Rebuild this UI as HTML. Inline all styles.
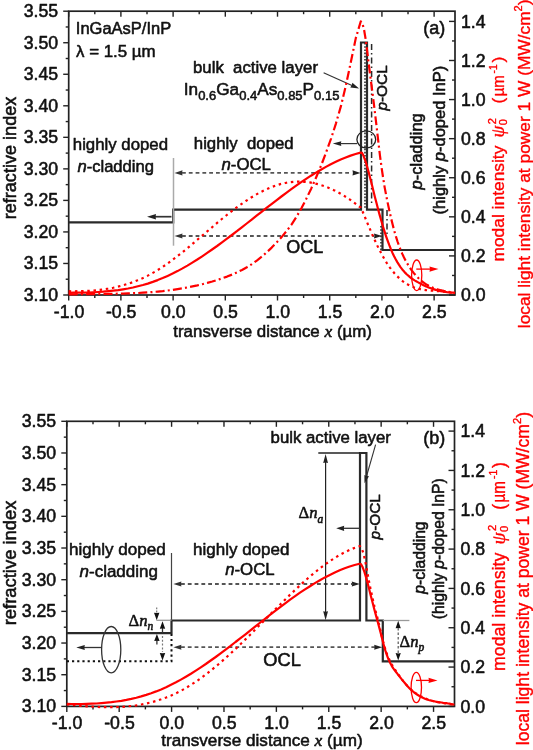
<!DOCTYPE html>
<html><head><meta charset="utf-8"><style>
html,body{margin:0;padding:0;background:#fff;}
body{width:533px;height:750px;overflow:hidden;font-family:"Liberation Sans", sans-serif;}
svg{display:block;filter:blur(0.35px);}
text{stroke-width:0.55px;stroke-linejoin:round;}
.rl text{stroke-width:0.35px;}
</style></head><body>
<svg width="533" height="750" viewBox="0 0 533 750" font-family='"Liberation Sans", sans-serif'>
<rect width="533" height="750" fill="#fff"/>
<rect x="68.7" y="11.2" width="386.3" height="283.8" fill="none" stroke="#222" stroke-width="1.7"/>
<line x1="63.2" y1="295" x2="68.7" y2="295" stroke="#222" stroke-width="1.4" />
<text x="58.1" y="300.9" font-size="17.7" text-anchor="end" fill="#111" stroke="#111"  style="">3.10</text>
<line x1="65.7" y1="279.23" x2="68.7" y2="279.23" stroke="#222" stroke-width="1.4" />
<line x1="63.2" y1="263.47" x2="68.7" y2="263.47" stroke="#222" stroke-width="1.4" />
<text x="58.1" y="269.37" font-size="17.7" text-anchor="end" fill="#111" stroke="#111"  style="">3.15</text>
<line x1="65.7" y1="247.7" x2="68.7" y2="247.7" stroke="#222" stroke-width="1.4" />
<line x1="63.2" y1="231.93" x2="68.7" y2="231.93" stroke="#222" stroke-width="1.4" />
<text x="58.1" y="237.83" font-size="17.7" text-anchor="end" fill="#111" stroke="#111"  style="">3.20</text>
<line x1="65.7" y1="216.17" x2="68.7" y2="216.17" stroke="#222" stroke-width="1.4" />
<line x1="63.2" y1="200.4" x2="68.7" y2="200.4" stroke="#222" stroke-width="1.4" />
<text x="58.1" y="206.3" font-size="17.7" text-anchor="end" fill="#111" stroke="#111"  style="">3.25</text>
<line x1="65.7" y1="184.63" x2="68.7" y2="184.63" stroke="#222" stroke-width="1.4" />
<line x1="63.2" y1="168.87" x2="68.7" y2="168.87" stroke="#222" stroke-width="1.4" />
<text x="58.1" y="174.77" font-size="17.7" text-anchor="end" fill="#111" stroke="#111"  style="">3.30</text>
<line x1="65.7" y1="153.1" x2="68.7" y2="153.1" stroke="#222" stroke-width="1.4" />
<line x1="63.2" y1="137.33" x2="68.7" y2="137.33" stroke="#222" stroke-width="1.4" />
<text x="58.1" y="143.23" font-size="17.7" text-anchor="end" fill="#111" stroke="#111"  style="">3.35</text>
<line x1="65.7" y1="121.57" x2="68.7" y2="121.57" stroke="#222" stroke-width="1.4" />
<line x1="63.2" y1="105.8" x2="68.7" y2="105.8" stroke="#222" stroke-width="1.4" />
<text x="58.1" y="111.7" font-size="17.7" text-anchor="end" fill="#111" stroke="#111"  style="">3.40</text>
<line x1="65.7" y1="90.03" x2="68.7" y2="90.03" stroke="#222" stroke-width="1.4" />
<line x1="63.2" y1="74.27" x2="68.7" y2="74.27" stroke="#222" stroke-width="1.4" />
<text x="58.1" y="80.17" font-size="17.7" text-anchor="end" fill="#111" stroke="#111"  style="">3.45</text>
<line x1="65.7" y1="58.5" x2="68.7" y2="58.5" stroke="#222" stroke-width="1.4" />
<line x1="63.2" y1="42.73" x2="68.7" y2="42.73" stroke="#222" stroke-width="1.4" />
<text x="58.1" y="48.63" font-size="17.7" text-anchor="end" fill="#111" stroke="#111"  style="">3.50</text>
<line x1="65.7" y1="26.97" x2="68.7" y2="26.97" stroke="#222" stroke-width="1.4" />
<line x1="63.2" y1="11.2" x2="68.7" y2="11.2" stroke="#222" stroke-width="1.4" />
<text x="58.1" y="17.1" font-size="17.7" text-anchor="end" fill="#111" stroke="#111"  style="">3.55</text>
<line x1="68.7" y1="295" x2="68.7" y2="300.5" stroke="#222" stroke-width="1.4" />
<line x1="68.7" y1="11.2" x2="68.7" y2="16.7" stroke="#222" stroke-width="1.4" />
<text x="69" y="317.7" font-size="17.7" text-anchor="middle" fill="#111" stroke="#111"  style="">-1.0</text>
<line x1="94.8" y1="295" x2="94.8" y2="298" stroke="#222" stroke-width="1.4" />
<line x1="94.8" y1="11.2" x2="94.8" y2="14.2" stroke="#222" stroke-width="1.4" />
<line x1="120.9" y1="295" x2="120.9" y2="300.5" stroke="#222" stroke-width="1.4" />
<line x1="120.9" y1="11.2" x2="120.9" y2="16.7" stroke="#222" stroke-width="1.4" />
<text x="121.2" y="317.7" font-size="17.7" text-anchor="middle" fill="#111" stroke="#111"  style="">-0.5</text>
<line x1="147" y1="295" x2="147" y2="298" stroke="#222" stroke-width="1.4" />
<line x1="147" y1="11.2" x2="147" y2="14.2" stroke="#222" stroke-width="1.4" />
<line x1="173.11" y1="295" x2="173.11" y2="300.5" stroke="#222" stroke-width="1.4" />
<line x1="173.11" y1="11.2" x2="173.11" y2="16.7" stroke="#222" stroke-width="1.4" />
<text x="173.41" y="317.7" font-size="17.7" text-anchor="middle" fill="#111" stroke="#111"  style="">0.0</text>
<line x1="199.21" y1="295" x2="199.21" y2="298" stroke="#222" stroke-width="1.4" />
<line x1="199.21" y1="11.2" x2="199.21" y2="14.2" stroke="#222" stroke-width="1.4" />
<line x1="225.31" y1="295" x2="225.31" y2="300.5" stroke="#222" stroke-width="1.4" />
<line x1="225.31" y1="11.2" x2="225.31" y2="16.7" stroke="#222" stroke-width="1.4" />
<text x="225.61" y="317.7" font-size="17.7" text-anchor="middle" fill="#111" stroke="#111"  style="">0.5</text>
<line x1="251.41" y1="295" x2="251.41" y2="298" stroke="#222" stroke-width="1.4" />
<line x1="251.41" y1="11.2" x2="251.41" y2="14.2" stroke="#222" stroke-width="1.4" />
<line x1="277.51" y1="295" x2="277.51" y2="300.5" stroke="#222" stroke-width="1.4" />
<line x1="277.51" y1="11.2" x2="277.51" y2="16.7" stroke="#222" stroke-width="1.4" />
<text x="277.81" y="317.7" font-size="17.7" text-anchor="middle" fill="#111" stroke="#111"  style="">1.0</text>
<line x1="303.61" y1="295" x2="303.61" y2="298" stroke="#222" stroke-width="1.4" />
<line x1="303.61" y1="11.2" x2="303.61" y2="14.2" stroke="#222" stroke-width="1.4" />
<line x1="329.71" y1="295" x2="329.71" y2="300.5" stroke="#222" stroke-width="1.4" />
<line x1="329.71" y1="11.2" x2="329.71" y2="16.7" stroke="#222" stroke-width="1.4" />
<text x="330.01" y="317.7" font-size="17.7" text-anchor="middle" fill="#111" stroke="#111"  style="">1.5</text>
<line x1="355.81" y1="295" x2="355.81" y2="298" stroke="#222" stroke-width="1.4" />
<line x1="355.81" y1="11.2" x2="355.81" y2="14.2" stroke="#222" stroke-width="1.4" />
<line x1="381.92" y1="295" x2="381.92" y2="300.5" stroke="#222" stroke-width="1.4" />
<line x1="381.92" y1="11.2" x2="381.92" y2="16.7" stroke="#222" stroke-width="1.4" />
<text x="382.22" y="317.7" font-size="17.7" text-anchor="middle" fill="#111" stroke="#111"  style="">2.0</text>
<line x1="408.02" y1="295" x2="408.02" y2="298" stroke="#222" stroke-width="1.4" />
<line x1="408.02" y1="11.2" x2="408.02" y2="14.2" stroke="#222" stroke-width="1.4" />
<line x1="434.12" y1="295" x2="434.12" y2="300.5" stroke="#222" stroke-width="1.4" />
<line x1="434.12" y1="11.2" x2="434.12" y2="16.7" stroke="#222" stroke-width="1.4" />
<text x="434.42" y="317.7" font-size="17.7" text-anchor="middle" fill="#111" stroke="#111"  style="">2.5</text>
<line x1="449" y1="295" x2="455" y2="295" stroke="#222" stroke-width="1.4" />
<text x="461" y="301.3" font-size="17.7" text-anchor="start" fill="#111" stroke="#111"  style="">0.0</text>
<line x1="452" y1="275.46" x2="455" y2="275.46" stroke="#222" stroke-width="1.4" />
<line x1="449" y1="255.91" x2="455" y2="255.91" stroke="#222" stroke-width="1.4" />
<text x="461" y="262.21" font-size="17.7" text-anchor="start" fill="#111" stroke="#111"  style="">0.2</text>
<line x1="452" y1="236.37" x2="455" y2="236.37" stroke="#222" stroke-width="1.4" />
<line x1="449" y1="216.83" x2="455" y2="216.83" stroke="#222" stroke-width="1.4" />
<text x="461" y="223.13" font-size="17.7" text-anchor="start" fill="#111" stroke="#111"  style="">0.4</text>
<line x1="452" y1="197.29" x2="455" y2="197.29" stroke="#222" stroke-width="1.4" />
<line x1="449" y1="177.74" x2="455" y2="177.74" stroke="#222" stroke-width="1.4" />
<text x="461" y="184.04" font-size="17.7" text-anchor="start" fill="#111" stroke="#111"  style="">0.6</text>
<line x1="452" y1="158.2" x2="455" y2="158.2" stroke="#222" stroke-width="1.4" />
<line x1="449" y1="138.66" x2="455" y2="138.66" stroke="#222" stroke-width="1.4" />
<text x="461" y="144.96" font-size="17.7" text-anchor="start" fill="#111" stroke="#111"  style="">0.8</text>
<line x1="452" y1="119.11" x2="455" y2="119.11" stroke="#222" stroke-width="1.4" />
<line x1="449" y1="99.57" x2="455" y2="99.57" stroke="#222" stroke-width="1.4" />
<text x="461" y="105.87" font-size="17.7" text-anchor="start" fill="#111" stroke="#111"  style="">1.0</text>
<line x1="452" y1="80.03" x2="455" y2="80.03" stroke="#222" stroke-width="1.4" />
<line x1="449" y1="60.49" x2="455" y2="60.49" stroke="#222" stroke-width="1.4" />
<text x="461" y="66.79" font-size="17.7" text-anchor="start" fill="#111" stroke="#111"  style="">1.2</text>
<line x1="452" y1="40.94" x2="455" y2="40.94" stroke="#222" stroke-width="1.4" />
<line x1="449" y1="21.4" x2="455" y2="21.4" stroke="#222" stroke-width="1.4" />
<text x="461" y="27.7" font-size="17.7" text-anchor="start" fill="#111" stroke="#111"  style="">1.4</text>
<text x="16" y="158" font-size="18.1" text-anchor="middle" fill="#111" stroke="#111" transform="rotate(-90 16 158)" style="">refractive index</text>
<text x="173.3" y="336.5" font-size="16.9" text-anchor="start" fill="#111" stroke="#111"  style="">transverse distance <tspan font-family="Liberation Serif" font-style="italic" font-size="17.5">x</tspan> (µm)</text>
<g transform="translate(504,261.6) rotate(-90) scale(1)" class="rl" fill="#f00" stroke="#f00" font-size="17.4">
<text x="0" y="0">modal intensity</text>
<text x="124" y="0" font-family="Liberation Serif" font-style="italic" font-size="19">ψ</text>
<text x="136.3" y="2.5" font-size="11">0</text>
<text x="137.3" y="-8.5" font-size="11">2</text>
<text x="158.2" y="0">(</text>
<text x="165.3" y="0" textLength="21" lengthAdjust="spacingAndGlyphs">µm</text>
<text x="188.2" y="-7.5" font-size="10.2">-1</text>
<text x="199" y="0">)</text>
</g>
<g transform="translate(529.5,328.2) rotate(-90) scale(1.008)" class="rl" fill="#f00" stroke="#f00" font-size="17.4">
<text x="0" y="0" font-size="17.2">local light intensity at power 1 W (MW/cm<tspan font-size="11" dy="-7">2</tspan><tspan dy="7">)</tspan></text>
</g>
<text x="423.3" y="34.2" font-size="18" text-anchor="start" fill="#111" stroke="#111"  style="">(a)</text>
<rect x="66.8" y="421.3" width="387.7" height="285.1" fill="none" stroke="#222" stroke-width="1.7"/>
<line x1="61.3" y1="706.4" x2="66.8" y2="706.4" stroke="#222" stroke-width="1.4" />
<text x="56.2" y="712.3" font-size="17.7" text-anchor="end" fill="#111" stroke="#111"  style="">3.10</text>
<line x1="63.8" y1="690.56" x2="66.8" y2="690.56" stroke="#222" stroke-width="1.4" />
<line x1="61.3" y1="674.72" x2="66.8" y2="674.72" stroke="#222" stroke-width="1.4" />
<text x="56.2" y="680.62" font-size="17.7" text-anchor="end" fill="#111" stroke="#111"  style="">3.15</text>
<line x1="63.8" y1="658.88" x2="66.8" y2="658.88" stroke="#222" stroke-width="1.4" />
<line x1="61.3" y1="643.04" x2="66.8" y2="643.04" stroke="#222" stroke-width="1.4" />
<text x="56.2" y="648.94" font-size="17.7" text-anchor="end" fill="#111" stroke="#111"  style="">3.20</text>
<line x1="63.8" y1="627.21" x2="66.8" y2="627.21" stroke="#222" stroke-width="1.4" />
<line x1="61.3" y1="611.37" x2="66.8" y2="611.37" stroke="#222" stroke-width="1.4" />
<text x="56.2" y="617.27" font-size="17.7" text-anchor="end" fill="#111" stroke="#111"  style="">3.25</text>
<line x1="63.8" y1="595.53" x2="66.8" y2="595.53" stroke="#222" stroke-width="1.4" />
<line x1="61.3" y1="579.69" x2="66.8" y2="579.69" stroke="#222" stroke-width="1.4" />
<text x="56.2" y="585.59" font-size="17.7" text-anchor="end" fill="#111" stroke="#111"  style="">3.30</text>
<line x1="63.8" y1="563.85" x2="66.8" y2="563.85" stroke="#222" stroke-width="1.4" />
<line x1="61.3" y1="548.01" x2="66.8" y2="548.01" stroke="#222" stroke-width="1.4" />
<text x="56.2" y="553.91" font-size="17.7" text-anchor="end" fill="#111" stroke="#111"  style="">3.35</text>
<line x1="63.8" y1="532.17" x2="66.8" y2="532.17" stroke="#222" stroke-width="1.4" />
<line x1="61.3" y1="516.33" x2="66.8" y2="516.33" stroke="#222" stroke-width="1.4" />
<text x="56.2" y="522.23" font-size="17.7" text-anchor="end" fill="#111" stroke="#111"  style="">3.40</text>
<line x1="63.8" y1="500.49" x2="66.8" y2="500.49" stroke="#222" stroke-width="1.4" />
<line x1="61.3" y1="484.66" x2="66.8" y2="484.66" stroke="#222" stroke-width="1.4" />
<text x="56.2" y="490.56" font-size="17.7" text-anchor="end" fill="#111" stroke="#111"  style="">3.45</text>
<line x1="63.8" y1="468.82" x2="66.8" y2="468.82" stroke="#222" stroke-width="1.4" />
<line x1="61.3" y1="452.98" x2="66.8" y2="452.98" stroke="#222" stroke-width="1.4" />
<text x="56.2" y="458.88" font-size="17.7" text-anchor="end" fill="#111" stroke="#111"  style="">3.50</text>
<line x1="63.8" y1="437.14" x2="66.8" y2="437.14" stroke="#222" stroke-width="1.4" />
<line x1="61.3" y1="421.3" x2="66.8" y2="421.3" stroke="#222" stroke-width="1.4" />
<text x="56.2" y="427.2" font-size="17.7" text-anchor="end" fill="#111" stroke="#111"  style="">3.55</text>
<line x1="66.8" y1="706.4" x2="66.8" y2="711.9" stroke="#222" stroke-width="1.4" />
<line x1="66.8" y1="421.3" x2="66.8" y2="426.8" stroke="#222" stroke-width="1.4" />
<text x="67.1" y="728.9" font-size="17.7" text-anchor="middle" fill="#111" stroke="#111"  style="">-1.0</text>
<line x1="93" y1="706.4" x2="93" y2="709.4" stroke="#222" stroke-width="1.4" />
<line x1="93" y1="421.3" x2="93" y2="424.3" stroke="#222" stroke-width="1.4" />
<line x1="119.19" y1="706.4" x2="119.19" y2="711.9" stroke="#222" stroke-width="1.4" />
<line x1="119.19" y1="421.3" x2="119.19" y2="426.8" stroke="#222" stroke-width="1.4" />
<text x="119.49" y="728.9" font-size="17.7" text-anchor="middle" fill="#111" stroke="#111"  style="">-0.5</text>
<line x1="145.39" y1="706.4" x2="145.39" y2="709.4" stroke="#222" stroke-width="1.4" />
<line x1="145.39" y1="421.3" x2="145.39" y2="424.3" stroke="#222" stroke-width="1.4" />
<line x1="171.58" y1="706.4" x2="171.58" y2="711.9" stroke="#222" stroke-width="1.4" />
<line x1="171.58" y1="421.3" x2="171.58" y2="426.8" stroke="#222" stroke-width="1.4" />
<text x="171.88" y="728.9" font-size="17.7" text-anchor="middle" fill="#111" stroke="#111"  style="">0.0</text>
<line x1="197.78" y1="706.4" x2="197.78" y2="709.4" stroke="#222" stroke-width="1.4" />
<line x1="197.78" y1="421.3" x2="197.78" y2="424.3" stroke="#222" stroke-width="1.4" />
<line x1="223.98" y1="706.4" x2="223.98" y2="711.9" stroke="#222" stroke-width="1.4" />
<line x1="223.98" y1="421.3" x2="223.98" y2="426.8" stroke="#222" stroke-width="1.4" />
<text x="224.28" y="728.9" font-size="17.7" text-anchor="middle" fill="#111" stroke="#111"  style="">0.5</text>
<line x1="250.17" y1="706.4" x2="250.17" y2="709.4" stroke="#222" stroke-width="1.4" />
<line x1="250.17" y1="421.3" x2="250.17" y2="424.3" stroke="#222" stroke-width="1.4" />
<line x1="276.37" y1="706.4" x2="276.37" y2="711.9" stroke="#222" stroke-width="1.4" />
<line x1="276.37" y1="421.3" x2="276.37" y2="426.8" stroke="#222" stroke-width="1.4" />
<text x="276.67" y="728.9" font-size="17.7" text-anchor="middle" fill="#111" stroke="#111"  style="">1.0</text>
<line x1="302.56" y1="706.4" x2="302.56" y2="709.4" stroke="#222" stroke-width="1.4" />
<line x1="302.56" y1="421.3" x2="302.56" y2="424.3" stroke="#222" stroke-width="1.4" />
<line x1="328.76" y1="706.4" x2="328.76" y2="711.9" stroke="#222" stroke-width="1.4" />
<line x1="328.76" y1="421.3" x2="328.76" y2="426.8" stroke="#222" stroke-width="1.4" />
<text x="329.06" y="728.9" font-size="17.7" text-anchor="middle" fill="#111" stroke="#111"  style="">1.5</text>
<line x1="354.96" y1="706.4" x2="354.96" y2="709.4" stroke="#222" stroke-width="1.4" />
<line x1="354.96" y1="421.3" x2="354.96" y2="424.3" stroke="#222" stroke-width="1.4" />
<line x1="381.15" y1="706.4" x2="381.15" y2="711.9" stroke="#222" stroke-width="1.4" />
<line x1="381.15" y1="421.3" x2="381.15" y2="426.8" stroke="#222" stroke-width="1.4" />
<text x="381.45" y="728.9" font-size="17.7" text-anchor="middle" fill="#111" stroke="#111"  style="">2.0</text>
<line x1="407.35" y1="706.4" x2="407.35" y2="709.4" stroke="#222" stroke-width="1.4" />
<line x1="407.35" y1="421.3" x2="407.35" y2="424.3" stroke="#222" stroke-width="1.4" />
<line x1="433.54" y1="706.4" x2="433.54" y2="711.9" stroke="#222" stroke-width="1.4" />
<line x1="433.54" y1="421.3" x2="433.54" y2="426.8" stroke="#222" stroke-width="1.4" />
<text x="433.84" y="728.9" font-size="17.7" text-anchor="middle" fill="#111" stroke="#111"  style="">2.5</text>
<line x1="448.5" y1="706.4" x2="454.5" y2="706.4" stroke="#222" stroke-width="1.4" />
<text x="460.5" y="712.7" font-size="17.7" text-anchor="start" fill="#111" stroke="#111"  style="">0.0</text>
<line x1="451.5" y1="686.74" x2="454.5" y2="686.74" stroke="#222" stroke-width="1.4" />
<line x1="448.5" y1="667.07" x2="454.5" y2="667.07" stroke="#222" stroke-width="1.4" />
<text x="460.5" y="673.37" font-size="17.7" text-anchor="start" fill="#111" stroke="#111"  style="">0.2</text>
<line x1="451.5" y1="647.41" x2="454.5" y2="647.41" stroke="#222" stroke-width="1.4" />
<line x1="448.5" y1="627.74" x2="454.5" y2="627.74" stroke="#222" stroke-width="1.4" />
<text x="460.5" y="634.04" font-size="17.7" text-anchor="start" fill="#111" stroke="#111"  style="">0.4</text>
<line x1="451.5" y1="608.08" x2="454.5" y2="608.08" stroke="#222" stroke-width="1.4" />
<line x1="448.5" y1="588.41" x2="454.5" y2="588.41" stroke="#222" stroke-width="1.4" />
<text x="460.5" y="594.71" font-size="17.7" text-anchor="start" fill="#111" stroke="#111"  style="">0.6</text>
<line x1="451.5" y1="568.75" x2="454.5" y2="568.75" stroke="#222" stroke-width="1.4" />
<line x1="448.5" y1="549.09" x2="454.5" y2="549.09" stroke="#222" stroke-width="1.4" />
<text x="460.5" y="555.39" font-size="17.7" text-anchor="start" fill="#111" stroke="#111"  style="">0.8</text>
<line x1="451.5" y1="529.42" x2="454.5" y2="529.42" stroke="#222" stroke-width="1.4" />
<line x1="448.5" y1="509.76" x2="454.5" y2="509.76" stroke="#222" stroke-width="1.4" />
<text x="460.5" y="516.06" font-size="17.7" text-anchor="start" fill="#111" stroke="#111"  style="">1.0</text>
<line x1="451.5" y1="490.09" x2="454.5" y2="490.09" stroke="#222" stroke-width="1.4" />
<line x1="448.5" y1="470.43" x2="454.5" y2="470.43" stroke="#222" stroke-width="1.4" />
<text x="460.5" y="476.73" font-size="17.7" text-anchor="start" fill="#111" stroke="#111"  style="">1.2</text>
<line x1="451.5" y1="450.76" x2="454.5" y2="450.76" stroke="#222" stroke-width="1.4" />
<line x1="448.5" y1="431.1" x2="454.5" y2="431.1" stroke="#222" stroke-width="1.4" />
<text x="460.5" y="437.4" font-size="17.7" text-anchor="start" fill="#111" stroke="#111"  style="">1.4</text>
<text x="15.6" y="562.9" font-size="18.4" text-anchor="middle" fill="#111" stroke="#111" transform="rotate(-90 15.6 562.9)" style="">refractive index</text>
<text x="161.2" y="746.4" font-size="17.15" text-anchor="start" fill="#111" stroke="#111"  style="">transverse distance <tspan font-family="Liberation Serif" font-style="italic" font-size="17.5">x</tspan> (µm)</text>
<g transform="translate(505,671) rotate(-90) scale(1.02)" class="rl" fill="#f00" stroke="#f00" font-size="17.4">
<text x="0" y="0">modal intensity</text>
<text x="124" y="0" font-family="Liberation Serif" font-style="italic" font-size="19">ψ</text>
<text x="136.3" y="2.5" font-size="11">0</text>
<text x="137.3" y="-8.5" font-size="11">2</text>
<text x="158.2" y="0">(</text>
<text x="165.3" y="0" textLength="21" lengthAdjust="spacingAndGlyphs">µm</text>
<text x="188.2" y="-7.5" font-size="10.2">-1</text>
<text x="199" y="0">)</text>
</g>
<g transform="translate(528.5,745.2) rotate(-90) scale(1.022)" class="rl" fill="#f00" stroke="#f00" font-size="17.4">
<text x="0" y="0" font-size="17.2">local light intensity at power 1 W (MW/cm<tspan font-size="11" dy="-7">2</tspan><tspan dy="7">)</tspan></text>
</g>
<text x="423.3" y="443.8" font-size="18" text-anchor="start" fill="#111" stroke="#111"  style="">(b)</text>
<text x="75.8" y="34.3" font-size="16.5" fill="#111" stroke="#111" >InGaAsP/InP</text>
<text x="76" y="57.4" font-size="16.9" fill="#111" stroke="#111" >λ = 1.5 µm</text>
<text x="193" y="73" font-size="16.8" fill="#111" stroke="#111" >bulk&#160; active layer</text>
<text x="183.8" y="95" font-size="17.2" fill="#111" stroke="#111" >In<tspan font-size="13" dy="4.8">0.6</tspan><tspan dy="-4.8">Ga</tspan><tspan font-size="13" dy="4.8">0.4</tspan><tspan dy="-4.8">As</tspan><tspan font-size="13" dy="4.8">0.85</tspan><tspan dy="-4.8">P</tspan><tspan font-size="13" dy="4.8">0.15</tspan></text>
<text x="72.8" y="150" font-size="16.8" fill="#111" stroke="#111" >highly doped</text>
<text x="77.4" y="171.8" font-size="16.6" fill="#111" stroke="#111" ><tspan font-style="italic">n</tspan>-cladding</text>
<text x="193.8" y="149.4" font-size="16.8" fill="#111" stroke="#111" >highly&#160; doped</text>
<text x="221.5" y="170" font-size="16.8" fill="#111" stroke="#111" ><tspan font-style="italic">n</tspan>-OCL</text>
<text x="286.2" y="253.4" font-size="18" fill="#111" stroke="#111" >OCL</text>
<text transform="translate(387.2,110.6) rotate(-90)" font-size="15.4" fill="#111" stroke="#111"><tspan font-style="italic">p</tspan>-OCL</text>
<text transform="translate(422.2,189.4) rotate(-90)" font-size="16.5" fill="#111" stroke="#111"><tspan font-style="italic">p</tspan>-cladding</text>
<text transform="translate(445.4,214.4) rotate(-90)" font-size="16.5" fill="#111" stroke="#111">(highly <tspan font-style="italic">p</tspan>-doped InP)</text>
<path d="M68.7,222.3 L173.2,222.3 L173.2,209.6 L361,209.6 L361,42.5 L367,42.5 L367,209.6 L382.5,209.6 L382.5,250 L455,250" stroke="#2a2a2a" stroke-width="2.2" fill="none" />
<path d="M365,43 L365,209.6" stroke="#2a2a2a" stroke-width="1.6" stroke-dasharray="1.6,1.6" fill="none"/>
<path d="M381,226 L381,250" stroke="#2a2a2a" stroke-width="1.6" stroke-dasharray="1.6,1.6" fill="none"/>
<path d="M371.6,44 L371.6,206" stroke="#2a2a2a" stroke-width="1.5" stroke-dasharray="6,3,1.5,3" fill="none"/>
<path d="M387,210 L387,236" stroke="#2a2a2a" stroke-width="1.5" stroke-dasharray="6,3,1.5,3" fill="none"/>
<line x1="173.5" y1="158" x2="173.5" y2="245.7" stroke="#aaa" stroke-width="1.5" />
<path d="M182,172.9 L352,172.9" stroke="#555" stroke-width="1.8" stroke-dasharray="3.8,3" fill="none"/>
<path d="M174.5,172.9 L182.5,170.3 L182.1,172.9 L182.5,175.5 Z" fill="#333"/>
<path d="M360.5,172.9 L352.5,175.5 L352.9,172.9 L352.5,170.3 Z" fill="#222"/>
<path d="M182,236 L374,236" stroke="#555" stroke-width="1.8" stroke-dasharray="3.8,3" fill="none"/>
<path d="M174.5,236 L182.5,233.4 L182.1,236 L182.5,238.6 Z" fill="#333"/>
<path d="M382,236 L374,238.6 L374.4,236 L374,233.4 Z" fill="#222"/>
<line x1="153" y1="216.7" x2="171.5" y2="216.7" stroke="#333" stroke-width="1.7" />
<path d="M147,216.7 L156,213.9 L155.55,216.7 L156,219.5 Z" fill="#222"/>
<ellipse cx="366.3" cy="139.4" rx="9.4" ry="8.5" fill="none" stroke="#222" stroke-width="1.3"/>
<line x1="341" y1="143.6" x2="357" y2="143.6" stroke="#333" stroke-width="1.2" />
<path d="M332.8,143.6 L341.3,141.2 L340.88,143.6 L341.3,146 Z" fill="#222"/>
<line x1="323.6" y1="72.7" x2="352" y2="85.5" stroke="#333" stroke-width="1.2" />
<path d="M359.1,88.5 L350.28,87.42 L351.72,85.22 L352.39,82.67 Z" fill="#222"/>
<path d="M68.7,292.8 L73.6,292.7 L78.6,292.7 L83.5,292.6 L88.5,292.5 L93.4,292.3 L98.4,292.0 L103.3,291.7 L108.3,291.2 L113.2,290.7 L118.2,290.1 L123.1,289.3 L128.0,288.5 L133.0,287.5 L137.9,286.3 L142.9,285.0 L147.8,283.6 L152.8,281.9 L157.7,280.1 L162.7,278.1 L167.6,275.9 L172.6,273.6 L177.5,271.1 L182.5,268.4 L187.4,265.6 L192.3,262.6 L197.3,259.5 L202.2,256.3 L207.2,252.9 L212.1,249.5 L217.1,246.0 L222.0,242.4 L227.0,238.7 L231.9,235.0 L236.9,231.2 L241.8,227.3 L246.7,223.5 L251.7,219.6 L256.6,215.7 L261.6,211.8 L266.5,207.9 L271.5,204.1 L276.4,200.3 L281.4,196.5 L286.3,192.8 L291.3,189.2 L296.2,185.7 L301.2,182.2 L306.1,178.9 L311.0,175.7 L316.0,172.6 L320.9,169.7 L325.9,166.9 L330.8,164.2 L335.8,161.8 L340.7,159.5 L345.7,157.5 L350.6,155.6 L355.6,154.0 L360.5,152.6 L362.1,152.9 L363.7,156.3 L365.3,160.7 L366.9,165.8 L368.5,171.6 L370.1,177.7 L371.7,184.1 L373.3,190.5 L374.9,196.9 L376.5,203.1 L378.1,209.2 L379.7,215.1 L381.3,220.7 L382.9,226.2 L384.5,231.4 L386.1,236.3 L387.7,240.9 L389.3,245.2 L390.9,249.2 L392.5,252.9 L394.1,256.2 L395.7,259.3 L397.3,262.1 L398.9,264.7 L400.5,267.1 L402.1,269.2 L403.7,271.1 L405.3,272.9 L406.9,274.5 L408.6,275.9 L410.2,277.3 L411.8,278.5 L413.4,279.6 L415.0,280.6 L416.6,281.5 L418.2,282.4 L419.8,283.3 L421.4,284.1 L423.0,284.9 L424.6,285.7 L426.2,286.4 L427.8,287.1 L429.4,287.7 L431.0,288.3 L432.6,288.9 L434.2,289.4 L435.8,289.9 L437.4,290.3 L439.0,290.7 L440.6,291.1 L442.2,291.4 L443.8,291.7 L445.4,292.0 L447.0,292.2 L448.6,292.3 L450.2,292.5 L451.8,292.6 L453.4,292.6 L455.0,292.6" stroke="#f00" stroke-width="2.2" fill="none" stroke-linejoin="round" />
<path d="M68.7,291.2 L73.6,291.3 L78.5,291.2 L83.5,291.1 L88.4,290.9 L93.3,290.5 L98.2,290.1 L103.1,289.4 L108.1,288.7 L113.0,287.8 L117.9,286.7 L122.8,285.4 L127.7,283.9 L132.7,282.2 L137.6,280.3 L142.5,278.2 L147.4,275.9 L152.3,273.2 L157.3,270.4 L162.2,267.2 L167.1,263.9 L172.0,260.3 L176.9,256.6 L181.9,252.7 L186.8,248.7 L191.7,244.6 L196.6,240.4 L201.5,236.2 L206.5,232.0 L211.4,227.8 L216.3,223.6 L221.2,219.5 L226.2,215.5 L231.1,211.7 L236.0,207.9 L240.9,204.4 L245.8,201.0 L250.8,197.8 L255.7,194.8 L260.6,192.1 L265.5,189.7 L270.4,187.5 L275.4,185.7 L280.3,184.1 L285.2,183.0 L290.1,182.2 L295.0,181.7 L300.0,181.6 L304.9,181.9 L309.8,182.4 L314.7,183.4 L319.6,184.6 L324.6,186.2 L329.5,188.2 L334.4,190.4 L339.3,193.0 L344.2,195.9 L349.2,199.1 L354.1,202.7 L359.0,206.5 L360.6,207.2 L362.3,210.8 L363.9,214.6 L365.5,218.5 L367.1,222.4 L368.8,226.3 L370.4,230.1 L372.0,233.9 L373.6,237.7 L375.3,241.3 L376.9,244.8 L378.5,248.1 L380.2,251.3 L381.8,254.4 L383.4,257.3 L385.0,260.1 L386.7,262.8 L388.3,265.2 L389.9,267.6 L391.5,269.8 L393.2,271.8 L394.8,273.7 L396.4,275.5 L398.1,277.1 L399.7,278.6 L401.3,280.0 L402.9,281.3 L404.6,282.5 L406.2,283.5 L407.8,284.5 L409.4,285.4 L411.1,286.1 L412.7,286.8 L414.3,287.5 L415.9,288.0 L417.6,288.5 L419.2,288.9 L420.8,289.3 L422.5,289.6 L424.1,289.9 L425.7,290.1 L427.3,290.3 L429.0,290.5 L430.6,290.6 L432.2,290.7 L433.8,290.8 L435.5,291.0 L437.1,291.1 L438.7,291.2 L440.4,291.3 L442.0,291.4 L443.6,291.6 L445.2,291.7 L446.9,291.9 L448.5,292.2 L450.1,292.5 L451.7,292.8 L453.4,293.2 L455.0,293.6" stroke="#f00" stroke-width="2.2" fill="none" stroke-linejoin="round" stroke-dasharray="2.5,3.7"/>
<path d="M68.7,294.4 L73.7,294.3 L78.6,294.2 L83.6,294.1 L88.5,294.1 L93.5,294.1 L98.4,294.0 L103.4,294.0 L108.3,293.9 L113.3,293.8 L118.2,293.7 L123.2,293.6 L128.1,293.4 L133.1,293.2 L138.0,293.0 L143.0,292.7 L147.9,292.4 L152.9,292.0 L157.8,291.6 L162.8,291.1 L167.7,290.5 L172.7,289.9 L177.6,289.1 L182.6,288.3 L187.5,287.4 L192.5,286.4 L197.4,285.4 L202.4,284.2 L207.3,282.9 L212.3,281.5 L217.2,280.0 L222.2,278.3 L227.1,276.6 L232.1,274.6 L237.0,272.4 L242.0,270.0 L246.9,267.2 L251.9,264.1 L256.8,260.6 L261.8,256.7 L266.7,252.3 L271.7,247.6 L276.6,242.5 L281.6,237.1 L286.5,231.2 L291.5,224.6 L296.4,216.9 L301.4,208.3 L306.3,198.8 L311.3,188.4 L316.2,177.3 L321.2,165.3 L326.1,152.4 L331.1,138.5 L336.0,123.3 L341.0,105.9 L345.9,85.4 L350.9,61.8 L355.8,38.1 L360.8,21.3 L362.4,23.4 L364.0,29.3 L365.6,38.9 L367.2,51.2 L368.8,64.4 L370.4,76.9 L372.0,89.2 L373.6,101.6 L375.2,114.8 L376.8,128.4 L378.4,142.3 L380.0,155.8 L381.6,167.8 L383.2,178.3 L384.7,187.6 L386.3,196.0 L387.9,203.9 L389.5,211.3 L391.1,218.3 L392.7,224.8 L394.3,230.9 L395.9,236.4 L397.5,241.5 L399.1,246.0 L400.7,250.2 L402.3,253.9 L403.9,257.3 L405.5,260.4 L407.1,263.3 L408.7,265.9 L410.3,268.3 L411.9,270.6 L413.5,272.7 L415.1,274.6 L416.7,276.4 L418.3,278.0 L419.9,279.5 L421.5,280.9 L423.1,282.2 L424.7,283.3 L426.3,284.4 L427.9,285.3 L429.5,286.2 L431.1,286.9 L432.6,287.6 L434.2,288.2 L435.8,288.8 L437.4,289.3 L439.0,289.7 L440.6,290.2 L442.2,290.5 L443.8,290.9 L445.4,291.2 L447.0,291.6 L448.6,291.9 L450.2,292.2 L451.8,292.6 L453.4,292.9 L455.0,293.3" stroke="#f00" stroke-width="2.2" fill="none" stroke-linejoin="round" stroke-dasharray="9,3.2,2,3.2"/>
<ellipse cx="416.7" cy="275.3" rx="5.1" ry="15.3" fill="none" stroke="#f00" stroke-width="1.3"/>
<line x1="416.3" y1="269.1" x2="430" y2="269.1" stroke="#f00" stroke-width="1.3" />
<path d="M438.5,269.1 L429.5,271.7 L429.95,269.1 L429.5,266.5 Z" fill="#f00"/>
<text x="270.6" y="442.8" font-size="16.8" fill="#111" stroke="#111" >bulk active layer</text>
<text x="68.9" y="554.8" font-size="17.1" fill="#111" stroke="#111" >highly doped</text>
<text x="79.5" y="577.3" font-size="17.0" fill="#111" stroke="#111" ><tspan font-style="italic">n</tspan>-cladding</text>
<text x="193" y="554.8" font-size="17.0" fill="#111" stroke="#111" >highly doped</text>
<text x="225.2" y="575" font-size="16.8" fill="#111" stroke="#111" ><tspan font-style="italic">n</tspan>-OCL</text>
<text x="263.3" y="666" font-size="18.3" fill="#111" stroke="#111" >OCL</text>
<text transform="translate(379.6,539.4) rotate(-90)" font-size="15.4" fill="#111" stroke="#111"><tspan font-style="italic">p</tspan>-OCL</text>
<text transform="translate(424.9,593.8) rotate(-90)" font-size="15.7" fill="#111" stroke="#111"><tspan font-style="italic">p</tspan>-cladding</text>
<text transform="translate(444.3,619.2) rotate(-90)" font-size="15.65" fill="#111" stroke="#111">(highly <tspan font-style="italic">p</tspan>-doped InP)</text>
<text x="128.6" y="625.7" font-size="16.5" font-family="Liberation Serif" fill="#111" stroke="#111" stroke-width="0.3">Δ<tspan font-style="italic">n</tspan><tspan font-style="italic" font-size="11.5" dy="4.5">n</tspan></text>
<text x="298.5" y="518.2" font-size="16.5" font-family="Liberation Serif" fill="#111" stroke="#111" stroke-width="0.3">Δ<tspan font-style="italic">n</tspan><tspan font-style="italic" font-size="11.5" dy="4.5">a</tspan></text>
<text x="399.5" y="646.6" font-size="16.5" font-family="Liberation Serif" fill="#111" stroke="#111" stroke-width="0.3">Δ<tspan font-style="italic">n</tspan><tspan font-style="italic" font-size="11.5" dy="4.5">p</tspan></text>
<path d="M66.8,633.2 L171.5,633.2 L171.5,620.5 L360,620.5 L360,453 L366.4,453 L366.4,620.5 L382.8,620.5 L382.8,661.3 L454.5,661.3" stroke="#2a2a2a" stroke-width="2.2" fill="none" />
<line x1="318.3" y1="453" x2="360" y2="453" stroke="#222" stroke-width="1.3" />
<line x1="382.8" y1="620.5" x2="409.4" y2="620.5" stroke="#999" stroke-width="1.3" />
<line x1="171.5" y1="553" x2="171.5" y2="620.5" stroke="#444" stroke-width="1.2" />
<path d="M66.8,661.2 L171.5,661.2 L171.5,634" stroke="#111" stroke-width="2" stroke-dasharray="2.2,3" fill="none"/>
<path d="M181,584 L352,584" stroke="#555" stroke-width="1.8" stroke-dasharray="3.8,3" fill="none"/>
<path d="M173.4,584 L181.4,581.5 L181,584 L181.4,586.5 Z" fill="#333"/>
<path d="M359.8,584 L351.8,586.5 L352.2,584 L351.8,581.5 Z" fill="#222"/>
<path d="M181,647.2 L375,647.2" stroke="#555" stroke-width="1.8" stroke-dasharray="3.8,3" fill="none"/>
<path d="M173.4,647.2 L181.4,644.7 L181,647.2 L181.4,649.7 Z" fill="#333"/>
<path d="M382.2,647.2 L374.2,649.7 L374.6,647.2 L374.2,644.7 Z" fill="#222"/>
<line x1="325.6" y1="461" x2="325.6" y2="613" stroke="#222" stroke-width="1.2" />
<path d="M325.6,453.9 L328,462.9 L325.6,462.45 L323.2,462.9 Z" fill="#222"/>
<path d="M325.6,620.3 L323.2,611.3 L325.6,611.75 L328,611.3 Z" fill="#222"/>
<line x1="343" y1="528.3" x2="359.5" y2="528.3" stroke="#333" stroke-width="1.3" />
<path d="M336.2,528.3 L344.2,525.7 L343.8,528.3 L344.2,530.9 Z" fill="#222"/>
<line x1="375.6" y1="444.7" x2="366.6" y2="476" stroke="#333" stroke-width="1.1" />
<path d="M364.5,483.3 L364.4,474.95 L366.6,476 L369.02,476.27 Z" fill="#222"/>
<path d="M156.7,607.5 L156.7,613" stroke="#777" stroke-width="1.2" stroke-dasharray="1.8,1.3"/>
<path d="M156.7,620.2 L154,612.7 L156.7,613.08 L159.4,612.7 Z" fill="#111"/>
<line x1="156.4" y1="620.3" x2="171.4" y2="620.3" stroke="#999" stroke-width="1.3" />
<line x1="162.5" y1="627" x2="162.5" y2="633" stroke="#333" stroke-width="1.3" />
<path d="M162.5,621.3 L165.2,628.8 L162.5,628.42 L159.8,628.8 Z" fill="#111"/>
<line x1="156.9" y1="639" x2="156.9" y2="644.5" stroke="#333" stroke-width="1.3" />
<path d="M156.9,634 L159.6,641 L156.9,640.65 L154.2,641 Z" fill="#111"/>
<path d="M162.5,636 L162.5,652" stroke="#777" stroke-width="1.2" stroke-dasharray="2,1.8"/>
<path d="M162.5,660.4 L159.8,652.9 L162.5,653.27 L165.2,652.9 Z" fill="#111"/>
<ellipse cx="111.2" cy="649.7" rx="9.6" ry="23.2" fill="none" stroke="#333" stroke-width="1.3"/>
<line x1="84" y1="647.5" x2="101.5" y2="647.5" stroke="#333" stroke-width="1.3" />
<path d="M76.3,647.5 L84.8,644.9 L84.38,647.5 L84.8,650.1 Z" fill="#222"/>
<path d="M398.2,628 L398.2,654" stroke="#555" stroke-width="1.2" stroke-dasharray="2.5,2"/>
<path d="M398.2,620.8 L400.8,628.3 L398.2,627.92 L395.6,628.3 Z" fill="#111"/>
<path d="M398.2,660.6 L395.6,653.1 L398.2,653.48 L400.8,653.1 Z" fill="#111"/>
<path d="M66.8,703.9 L71.8,704.0 L76.7,704.0 L81.7,704.0 L86.7,703.9 L91.6,703.7 L96.6,703.5 L101.5,703.1 L106.5,702.7 L111.5,702.2 L116.4,701.5 L121.4,700.8 L126.4,699.9 L131.3,698.9 L136.3,697.7 L141.2,696.4 L146.2,694.9 L151.2,693.2 L156.1,691.4 L161.1,689.4 L166.1,687.2 L171.0,684.8 L176.0,682.3 L180.9,679.6 L185.9,676.7 L190.9,673.7 L195.8,670.6 L200.8,667.3 L205.8,664.0 L210.7,660.5 L215.7,657.0 L220.6,653.3 L225.6,649.6 L230.6,645.9 L235.5,642.0 L240.5,638.2 L245.5,634.3 L250.4,630.4 L255.4,626.4 L260.3,622.5 L265.3,618.6 L270.3,614.7 L275.2,610.9 L280.2,607.1 L285.2,603.4 L290.1,599.7 L295.1,596.2 L300.0,592.7 L305.0,589.4 L310.0,586.2 L314.9,583.1 L319.9,580.2 L324.9,577.4 L329.8,574.9 L334.8,572.5 L339.7,570.3 L344.7,568.3 L349.7,566.5 L354.6,565.0 L359.6,563.8 L361.2,564.4 L362.8,567.6 L364.4,571.9 L366.0,577.1 L367.6,583.0 L369.2,589.3 L370.8,595.8 L372.5,602.2 L374.1,608.4 L375.7,614.4 L377.3,620.3 L378.9,626.2 L380.5,632.3 L382.1,638.6 L383.7,644.7 L385.3,650.4 L386.9,655.2 L388.5,659.4 L390.1,662.8 L391.7,665.8 L393.3,668.4 L394.9,670.6 L396.6,672.7 L398.2,674.8 L399.8,676.8 L401.4,678.9 L403.0,680.9 L404.6,682.8 L406.2,684.7 L407.8,686.5 L409.4,688.2 L411.0,689.8 L412.6,691.2 L414.2,692.5 L415.8,693.7 L417.4,694.8 L419.1,695.8 L420.7,696.7 L422.3,697.5 L423.9,698.2 L425.5,698.9 L427.1,699.5 L428.7,700.0 L430.3,700.4 L431.9,700.8 L433.5,701.2 L435.1,701.5 L436.7,701.8 L438.3,702.1 L439.9,702.3 L441.5,702.5 L443.2,702.8 L444.8,703.0 L446.4,703.2 L448.0,703.5 L449.6,703.7 L451.2,704.0 L452.8,704.3 L454.4,704.7" stroke="#f00" stroke-width="2.2" fill="none" stroke-linejoin="round" />
<path d="M66.8,704.4 L71.8,704.9 L76.7,705.4 L81.7,705.9 L86.7,706.3 L91.6,706.6 L96.6,706.9 L101.6,707.1 L106.6,707.2 L111.5,707.2 L116.5,707.1 L121.5,706.9 L126.4,706.5 L131.4,706.0 L136.4,705.4 L141.3,704.5 L146.3,703.5 L151.3,702.3 L156.3,700.9 L161.2,699.3 L166.2,697.5 L171.2,695.5 L176.1,693.2 L181.1,690.7 L186.1,687.9 L191.0,684.8 L196.0,681.6 L201.0,678.1 L205.9,674.4 L210.9,670.5 L215.9,666.4 L220.9,662.2 L225.8,657.8 L230.8,653.3 L235.8,648.7 L240.7,644.0 L245.7,639.1 L250.7,634.2 L255.6,629.2 L260.6,624.2 L265.6,619.2 L270.5,614.2 L275.5,609.1 L280.5,604.2 L285.5,599.2 L290.4,594.4 L295.4,589.7 L300.4,585.0 L305.3,580.5 L310.3,576.2 L315.3,572.1 L320.2,568.1 L325.2,564.4 L330.2,560.9 L335.2,557.7 L340.1,554.7 L345.1,552.1 L350.1,549.7 L355.0,547.7 L360.0,546.1 L361.6,548.2 L363.2,552.6 L364.8,559.2 L366.4,567.2 L368.0,576.0 L369.6,584.4 L371.2,591.9 L372.8,599.3 L374.4,606.3 L376.0,612.6 L377.6,618.5 L379.2,624.9 L380.8,631.9 L382.4,638.7 L384.0,644.9 L385.6,650.1 L387.2,654.6 L388.8,658.5 L390.4,661.8 L392.0,664.7 L393.6,667.4 L395.2,669.9 L396.8,672.3 L398.4,674.6 L400.0,676.9 L401.6,679.0 L403.2,681.0 L404.8,682.9 L406.4,684.7 L408.0,686.4 L409.6,688.0 L411.2,689.5 L412.8,690.9 L414.4,692.1 L416.0,693.3 L417.6,694.4 L419.2,695.4 L420.8,696.3 L422.4,697.1 L424.0,697.9 L425.6,698.6 L427.2,699.2 L428.8,699.8 L430.4,700.3 L432.0,700.8 L433.6,701.2 L435.2,701.6 L436.8,701.9 L438.4,702.2 L440.0,702.5 L441.6,702.8 L443.2,703.1 L444.8,703.3 L446.4,703.5 L448.0,703.8 L449.6,704.0 L451.2,704.3 L452.8,704.5 L454.4,704.8" stroke="#f00" stroke-width="2.2" fill="none" stroke-linejoin="round" stroke-dasharray="2.5,3.7"/>
<ellipse cx="416.3" cy="687.5" rx="5.2" ry="15.2" fill="none" stroke="#f00" stroke-width="1.3"/>
<line x1="416" y1="680.4" x2="429" y2="680.4" stroke="#f00" stroke-width="1.3" />
<path d="M437.5,680.4 L428.5,683 L428.95,680.4 L428.5,677.8 Z" fill="#f00"/>
</svg>
</body></html>
